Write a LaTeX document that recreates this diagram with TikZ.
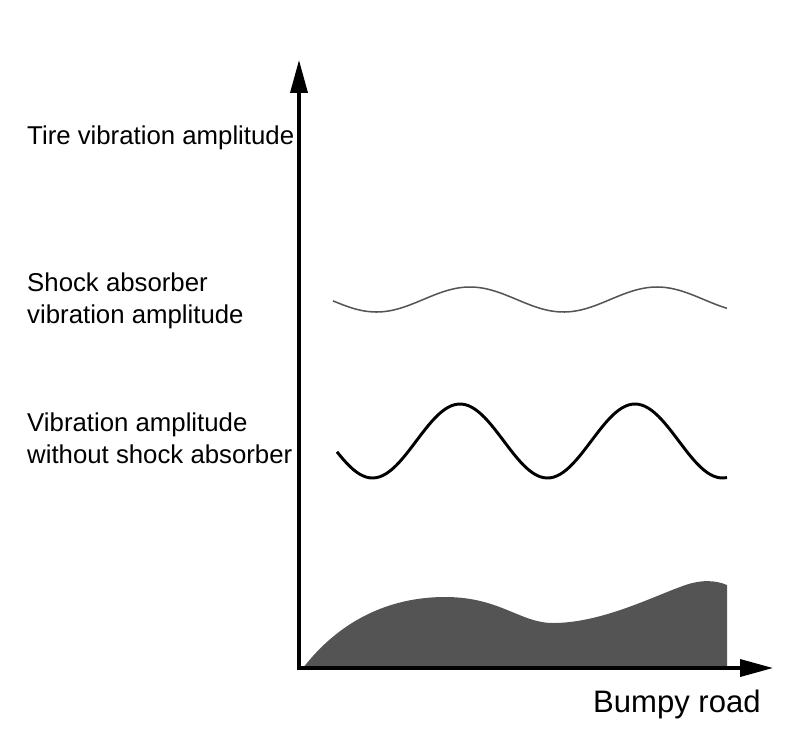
\documentclass[tikz,border=0pt]{standalone}
\usepackage{fontspec}
\setmainfont{Liberation Sans}
\usetikzlibrary{arrows.meta}

\begin{document}
\begin{tikzpicture}[x=0.03cm, y=-0.03cm,
    curvetext/.style={anchor=base west, inner sep=0pt, align=left,
        font=\fontsize{22}{26.5}\selectfont},
    axisline/.style={line width=2.8pt, {Triangle[length=28pt, width=14.5pt]}-{Triangle[length=28pt, width=14.5pt]}}]
    \useasboundingbox (0,0) rectangle (795,734);

    % Road profile
    \fill[black!67] (303,668) .. controls (340,620) and (390,597) .. (445,597)
        .. controls (500,597) and (520,623) .. (553,623)
        .. controls (600,623) and (650,598) .. (680,587)
        .. controls (700,579) and (715,580) .. (727,585)
        -- (727,668) -- cycle;

    % Axes
    \coordinate (O) at (299,668);
    \coordinate (ytip) at (299,60);
    \coordinate (xtip) at (773,668);
    \draw[axisline] (ytip) -- (O) -- (xtip);

    % Curves
    \draw[black!67, line width=1.3pt] plot[domain=333:727, samples=120]
        (\x, {299.5 - 12.5*sin((\x-423.25)*1.92513)});
    \draw[line width=2.5pt] plot[domain=337:727, samples=120]
        (\x, {441 - 37*sin((\x-416.25)*2.05714)});

    % Labels
    \node[curvetext] (tirelabel) at (27,144) {Tire vibration amplitude};
    \node[curvetext] (shocklabel) at (27,323) {Shock absorber\\vibration amplitude};
    \node[curvetext] (freelabel) at (27,463) {Vibration amplitude\\without shock absorber};
    \node[curvetext, font=\fontsize{26.5}{28}\selectfont] (roadlabel) at (593,712) {Bumpy road};
\end{tikzpicture}
\end{document}
